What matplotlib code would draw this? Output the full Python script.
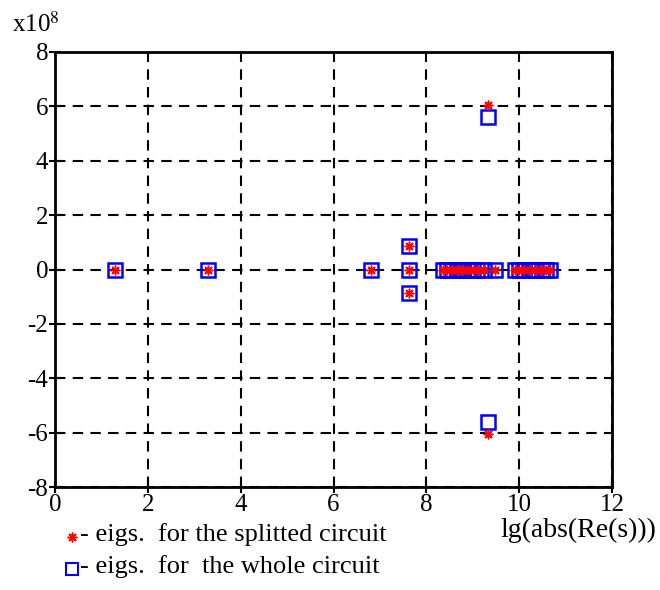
import matplotlib
matplotlib.use("Agg")
import matplotlib.pyplot as plt
import numpy as np

plt.rcParams['font.family'] = ['Liberation Serif', 'DejaVu Serif']

# eigenvalues: x = lg(abs(Re(s))), y = Im(s) in units of 1e8
split_x = [1.3, 3.3, 6.8, 7.62, 7.62, 7.62,
           8.35, 8.45, 8.55, 8.65, 8.72, 8.8, 8.9, 9.0, 9.1, 9.25, 9.33, 9.33, 9.48,
           9.9, 10.0, 10.1, 10.25, 10.35, 10.5, 10.58, 10.67]
split_y = [0, 0, 0, 0.88, 0, -0.88,
           0, 0, 0, 0, 0, 0, 0, 0, 0, 0, 6.05, -6.05, 0,
           0, 0, 0, 0, 0, 0, 0, 0]
whole_x = [1.3, 3.3, 6.8, 7.62, 7.62, 7.62,
           8.35, 8.45, 8.55, 8.65, 8.72, 8.8, 8.9, 9.0, 9.1, 9.25, 9.33, 9.33, 9.48,
           9.9, 10.0, 10.1, 10.25, 10.35, 10.5, 10.58, 10.67]
whole_y = [0, 0, 0, 0.88, 0, -0.88,
           0, 0, 0, 0, 0, 0, 0, 0, 0, 0, 5.6, -5.6, 0,
           0, 0, 0, 0, 0, 0, 0, 0]

xticks = [0, 2, 4, 6, 8, 10, 12]
yticks = [-8, -6, -4, -2, 0, 2, 4, 6, 8]

FS = 18

fig = plt.figure(figsize=(6.6, 5.9), dpi=100)
ax = fig.add_axes([55/660, 1-487/590, (612-55)/660, (487-52)/590])

ax.plot(whole_x, whole_y, linestyle='none', marker='s', markersize=10,
        markerfacecolor='none', markeredgecolor='blue', markeredgewidth=1.8, zorder=3)
ax.plot(split_x, split_y, linestyle='none', marker=(8, 2, 0), markersize=7,
        color='red', markeredgewidth=1.1, zorder=4)

ax.set_xlim(0, 12)
ax.set_ylim(-8, 8)
ax.set_xticks(xticks)
ax.set_yticks(yticks)
ax.set_xticklabels([str(t) for t in xticks], fontsize=FS)
ax.set_yticklabels([str(t) for t in yticks], fontsize=FS)
ax.tick_params(direction='inout', length=8, width=1.5, pad=1)
ax.grid(True, color='black', linestyle=(0, (5, 3.5)), linewidth=1.5)
for s in ax.spines.values():
    s.set_linewidth(2)

fig.text(12/660, 1-24/590, r'x10$^{8}$', fontsize=FS, va='center', ha='left',
         math_fontfamily='stix')
fig.text(656/660, 1-530/590, 'lg(abs(Re(s)))', fontsize=20, va='center', ha='right')

# legend-like annotation below the axes
ax_leg = fig.add_axes([0, 0, 1, 1], facecolor='none')
ax_leg.set_xlim(0, 660)
ax_leg.set_ylim(590, 0)
ax_leg.axis('off')
ax_leg.plot([72], [537], linestyle='none', marker=(8, 2, 0), markersize=7,
            color='red', markeredgewidth=1.1)
ax_leg.plot([72], [569], linestyle='none', marker='s', markersize=8,
            markerfacecolor='none', markeredgecolor='blue', markeredgewidth=1.5)
fig.text(80/660, 1-535/590, '- eigs.  for the splitted circuit', fontsize=19, va='center', ha='left')
fig.text(80/660, 1-567/590, '- eigs.  for  the whole circuit', fontsize=19, va='center', ha='left')

fig.savefig('out.png', dpi=100)
